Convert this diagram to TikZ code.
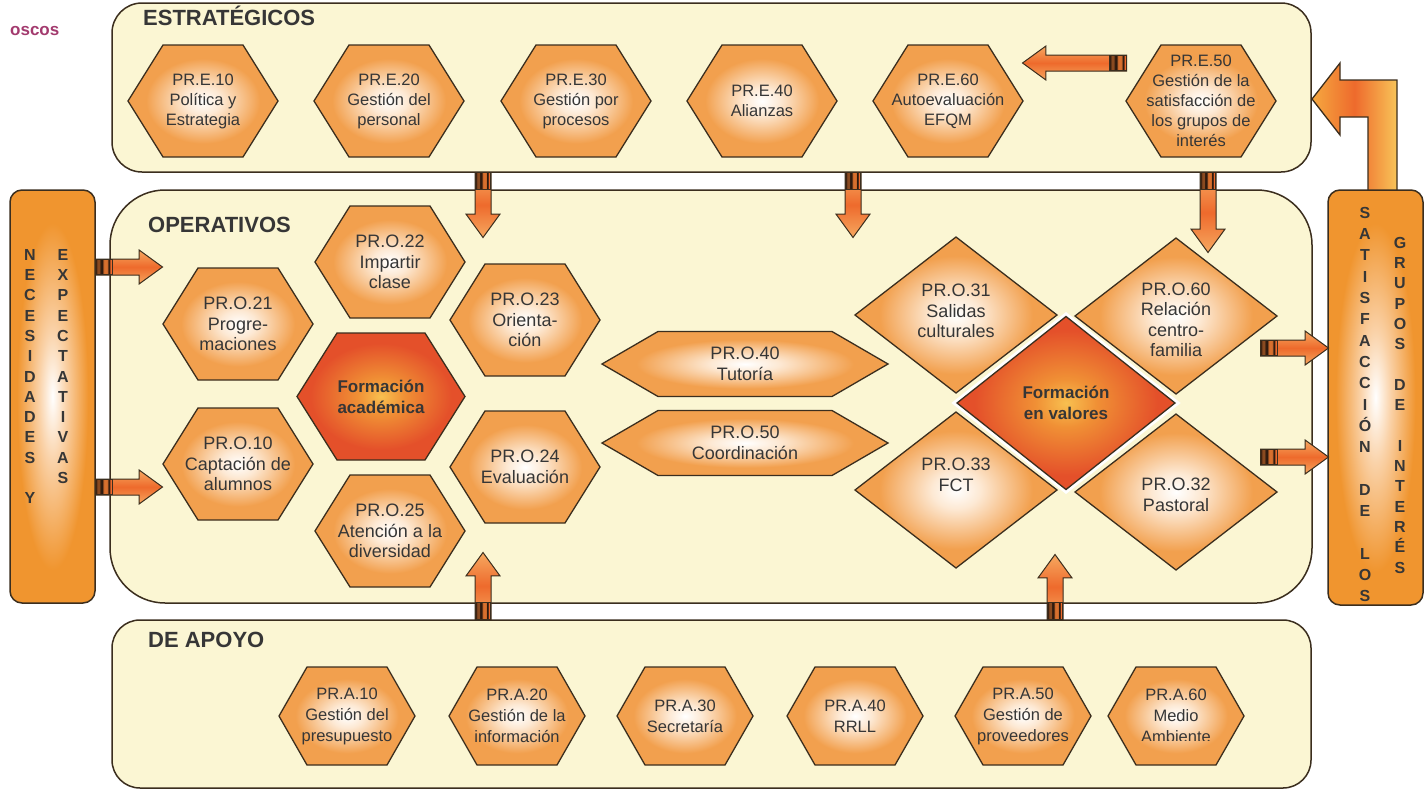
\documentclass[tikz,border=0pt]{standalone}
\usepackage{fontspec}
\setmainfont{Liberation Sans}
\usetikzlibrary{shapes.arrows,calc}
\definecolor{panelfill}{HTML}{FBF6D3}
\definecolor{bdr}{HTML}{3B2E1E}
\definecolor{txtc}{HTML}{363636}
\definecolor{hexorange}{HTML}{F2A04E}
\definecolor{hexlight}{HTML}{FDE9D4}
\definecolor{sideorange}{HTML}{F0952F}
\definecolor{sidelight}{HTML}{FAD2A8}
\definecolor{redc}{HTML}{E4502A}
\definecolor{redmid}{HTML}{F09035}
\definecolor{redin}{HTML}{F8C050}
\definecolor{arrdk}{HTML}{EE6A2C}
\definecolor{arrlt}{HTML}{F6A860}
\definecolor{stdk}{HTML}{2E1A0E}
\definecolor{stbr}{HTML}{8A4A20}
\definecolor{stor}{HTML}{D8702E}
\definecolor{oscoc}{HTML}{A33A6E}
\definecolor{bigA}{HTML}{F5A840}
\definecolor{bigB}{HTML}{F8C458}
\pgfdeclareradialshading{hexglow}{\pgfpoint{0bp}{0bp}}{color(0bp)=(white); color(6bp)=(hexlight); color(19bp)=(hexorange); color(50bp)=(hexorange)}
\pgfdeclareradialshading{sideglow}{\pgfpoint{0bp}{0bp}}{color(0bp)=(white); color(8bp)=(sidelight); color(21bp)=(sideorange); color(50bp)=(sideorange)}
\pgfdeclareradialshading{redglow}{\pgfpoint{0bp}{0bp}}{color(0bp)=(redin); color(7bp)=(redmid); color(21bp)=(redc); color(50bp)=(redc)}
\pgfdeclarehorizontalshading{stripes}{100bp}{color(0bp)=(stdk); color(27bp)=(stdk); color(30bp)=(stbr); color(37bp)=(stbr); color(40bp)=(stdk); color(46bp)=(stdk); color(49bp)=(stor); color(60bp)=(stor); color(63bp)=(stdk); color(66bp)=(stdk); color(69bp)=(arrdk); color(100bp)=(arrdk)}

\newcommand\hexa[9]{%
  \path[#7] (#2-#4,#3) -- (#2-#6,#3-#5) -- (#2+#6,#3-#5) -- (#2+#4,#3) -- (#2+#6,#3+#5) -- (#2-#6,#3+#5) -- cycle;
  \coordinate (#1-w) at (#2-#4,#3);
  \coordinate (#1-e) at (#2+#4,#3);
  \node[#8] (#1) at (#2,#3) {#9};
}
\newcommand\diam[8]{%
  \path[#6] (#2-#4,#3) -- (#2,#3-#5) -- (#2+#4,#3) -- (#2,#3+#5) -- cycle;
  \node[otxt] (#1) at (#2,#3+#7) {#8};
}
\newcommand\flow[2]{%
  \path let \p1=(#1), \p2=(#2), \n1={veclen(\x2-\x1,\y2-\y1)}, \n2={atan2(\y2-\y1,\x2-\x1)} in
    node[barrow, minimum height=\n1, rotate=\n2, anchor=tail] at (\p1) {}
    node[band, rotate=\n2, anchor=west] at (\p1) {};
}

\begin{document}
\begin{tikzpicture}[x=1pt,y=-1pt,
  panel/.style={draw=bdr, line width=1.5pt, fill=panelfill, inner sep=0pt},
  sidebox/.style={draw=bdr, line width=1.5pt, rounded corners=12pt, shade, shading=sideglow, inner sep=0pt},
  hexs/.style={draw=bdr, line width=1.3pt, shade, shading=hexglow},
  reds/.style={draw=bdr, line width=1.3pt, shade, shading=redglow},
  redd/.style={draw=bdr, line width=1.3pt, shade, shading=redglow, preaction={draw=white, line width=7pt}},
  etxt/.style={align=center, text=txtc, inner sep=0pt, font=\fontsize{16.5}{20}\selectfont},
  otxt/.style={align=center, text=txtc, inner sep=0pt, font=\fontsize{18}{20.5}\selectfont},
  btxt/.style={align=center, text=txtc, inner sep=0pt, font=\bfseries\fontsize{17}{21}\selectfont},
  atxt/.style={align=center, text=txtc, inner sep=0pt, font=\fontsize{16.5}{21}\selectfont},
  title/.style={anchor=base west, text=txtc, inner sep=0pt, font=\bfseries\fontsize{22}{24}\selectfont},
  vlet/.style={anchor=north, align=center, text=txtc, inner sep=0pt},
  barrow/.style={single arrow, draw=bdr, line width=1pt, inner xsep=0pt, inner ysep=7.5pt, minimum width=33pt,
    single arrow head extend=9pt, single arrow tip angle=72, top color=arrlt, bottom color=arrlt, middle color=arrdk},
  band/.style={rectangle, draw=bdr, line width=0.8pt, inner sep=0pt, minimum width=17pt, minimum height=15pt, shade, shading=stripes},
  bigarrow/.style={draw=bdr, line width=1.3pt, left color=bigA, right color=bigB, middle color=arrdk}
]
\useasboundingbox (0,0) rectangle (1424,790);
\fill[white] (0,0) rectangle (1424,790);

\node[anchor=west, font=\bfseries\fontsize{17}{20}\selectfont, text=oscoc, inner sep=0pt] (osc) at (10,31) {oscos};

% panels
\node[panel, rounded corners=30pt, minimum width=1199pt, minimum height=169pt] (estr) at (711.5,87.5) {};
\node[panel, rounded corners=55pt, minimum width=1202pt, minimum height=413pt] (oper) at (711,396.5) {};
\node[panel, rounded corners=28pt, minimum width=1199pt, minimum height=168pt] (apoyo) at (711.5,704) {};

\node[title] (tE) at (143,25) {ESTRATÉGICOS};
\node[title] (tO) at (148,232) {OPERATIVOS};
\node[title] (tA) at (148,647) {DE APOYO};

% big return arrow
\path[bigarrow] (1312,99) -- (1340,63) -- (1340,80) -- (1397,80) -- (1397,192) -- (1368,192) -- (1368,117) -- (1340,117) -- (1340,135) -- cycle;

% side boxes
\node[sidebox, minimum width=85pt, minimum height=413pt] (nec) at (52.5,396.5) {};
\node[sidebox, minimum width=95pt, minimum height=415pt] (sat) at (1375.5,397.5) {};

\node[vlet, font=\bfseries\fontsize{16}{20.3}\selectfont] (necA) at (30,249) {N\\E\\C\\E\\S\\I\\D\\A\\D\\E\\S\\[20.3pt]Y};
\node[vlet, font=\bfseries\fontsize{16}{20.3}\selectfont] (necB) at (63,249) {E\\X\\P\\E\\C\\T\\A\\T\\I\\V\\A\\S};
\node[vlet, font=\bfseries\fontsize{16}{21.3}\selectfont] (satA) at (1365,207) {S\\A\\T\\I\\S\\F\\A\\C\\C\\I\\Ó\\N\\[21.3pt]D\\E\\[21.3pt]L\\O\\S};
\node[vlet, font=\bfseries\fontsize{16}{20.3}\selectfont] (satB) at (1400,237) {G\\R\\U\\P\\O\\S\\[20.3pt]D\\E\\[20.3pt]I\\N\\T\\E\\R\\É\\S};

% strategic
\hexa{e10}{203}{101}{75}{56}{40}{hexs}{etxt}{PR.E.10\\Política y\\Estrategia}
\hexa{e20}{389}{101}{75}{56}{40}{hexs}{etxt}{PR.E.20\\Gestión del\\personal}
\hexa{e30}{576}{101}{75}{56}{40}{hexs}{etxt}{PR.E.30\\Gestión por\\procesos}
\hexa{e40}{762}{101}{75}{56}{40}{hexs}{etxt}{PR.E.40\\Alianzas}
\hexa{e60}{948}{101}{75}{56}{40}{hexs}{etxt}{PR.E.60\\Autoevaluación\\EFQM}
\hexa{e50}{1201}{101}{75}{56}{40}{hexs}{etxt}{PR.E.50\\Gestión de la\\satisfacción de\\los grupos de\\interés}

% operative hexagons
\hexa{o22}{390}{262}{75}{56}{40}{hexs}{otxt}{PR.O.22\\Impartir\\clase}
\hexa{o21}{238}{324}{75}{56}{40}{hexs}{otxt}{PR.O.21\\Progre-\\maciones}
\hexa{o23}{525}{320}{75}{56}{40}{hexs}{otxt}{PR.O.23\\Orienta-\\ción}
\hexa{fa}{381}{396.5}{84}{63.5}{44}{reds}{btxt}{Formación\\académica}
\hexa{o10}{238}{464}{75}{56}{40}{hexs}{otxt}{PR.O.10\\Captación de\\alumnos}
\hexa{o25}{390}{531}{75}{56}{40}{hexs}{otxt}{PR.O.25\\Atención a la\\diversidad}
\hexa{o24}{525}{467}{75}{56}{40}{hexs}{otxt}{PR.O.24\\Evaluación}
\hexa{o40}{745}{364}{143}{32.5}{87}{hexs}{otxt}{PR.O.40\\Tutoría}
\hexa{o50}{745}{443}{143}{32.5}{87}{hexs}{otxt}{PR.O.50\\Coordinación}

% diamonds
\diam{o31}{956}{315}{101}{78}{hexs}{-4}{PR.O.31\\Salidas\\culturales}
\diam{o60}{1176}{316}{101}{78}{hexs}{4}{PR.O.60\\Relación\\centro-\\familia}
\diam{o33}{956}{490}{101}{78}{hexs}{-15}{PR.O.33\\FCT}
\diam{o32}{1176}{492}{101}{78}{hexs}{3}{PR.O.32\\Pastoral}
\path[redd] (957,403) -- (1066,316.5) -- (1175,403) -- (1066,489.5) -- cycle;
\node[btxt] (fv) at (1066,403) {Formación\\en valores};

% support
\hexa{a10}{347}{716}{68}{49}{40}{hexs}{atxt}{PR.A.10\\Gestión del\\presupuesto}
\hexa{a20}{517}{716}{68}{49}{40}{hexs}{atxt}{PR.A.20\\Gestión de la\\información}
\hexa{a30}{685}{716}{68}{49}{40}{hexs}{atxt}{PR.A.30\\Secretaría}
\hexa{a40}{855}{716}{68}{49}{40}{hexs}{atxt}{PR.A.40\\RRLL}
\hexa{a50}{1023}{716}{68}{49}{40}{hexs}{atxt}{PR.A.50\\Gestión de\\proveedores}
\path[hexs] (1176-68,716) -- (1176-40,716-49) -- (1176+40,716-49) -- (1176+68,716) -- (1176+40,716+49) -- (1176-40,716+49) -- cycle;
\begin{scope}
  \clip (1100,650) rectangle (1250,740);
  \node[atxt] (a60) at (1176,716) {PR.A.60\\Medio\\Ambiente};
\end{scope}

% connector coordinates
\coordinate (t1) at (1127,63);  \coordinate (h1) at (1023,63);
\coordinate (t2) at (483,172);  \coordinate (h2) at (483,237);
\coordinate (t3) at (853,172);  \coordinate (h3) at (853,237);
\coordinate (t4) at (1208,172); \coordinate (h4) at (1208,252);
\coordinate (t5) at (95,267);   \coordinate (h5) at (162,267);
\coordinate (t6) at (95,487);   \coordinate (h6) at (162,487);
\coordinate (t7) at (1260,348); \coordinate (h7) at (1328,348);
\coordinate (t8) at (1260,457); \coordinate (h8) at (1328,457);
\coordinate (t9) at (483,620);  \coordinate (h9) at (483,553);
\coordinate (t10) at (1055,620); \coordinate (h10) at (1055,555);

\flow{t1}{h1}
\flow{t2}{h2}
\flow{t3}{h3}
\flow{t4}{h4}
\flow{t5}{h5}
\flow{t6}{h6}
\flow{t7}{h7}
\flow{t8}{h8}
\flow{t9}{h9}
\flow{t10}{h10}
\end{tikzpicture}
\end{document}
